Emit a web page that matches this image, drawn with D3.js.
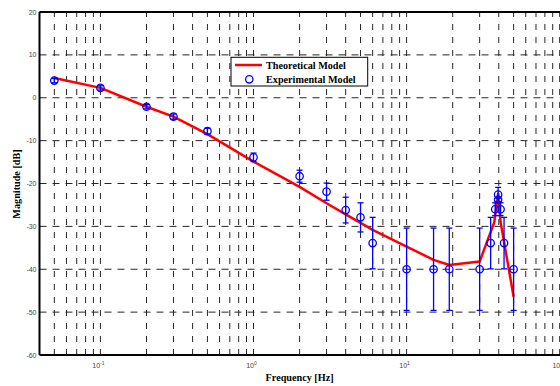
<!DOCTYPE html>
<html><head><meta charset="utf-8">
<script src="https://cdnjs.cloudflare.com/ajax/libs/d3/7.8.5/d3.min.js"></script>
<style>body{margin:0;background:#fff}svg{display:block}</style>
</head><body>
<svg id="c" width="560" height="386"></svg>
<script>
// Theoretical model
const theoFreq = [0.05, 0.1, 0.2, 0.3, 0.5, 1, 2, 3, 4, 5, 6, 10, 15, 19, 30, 37.4, 39.6, 41.1, 50];
const theoMag  = [4.6, 2.3, -2.1, -4.4, -8.5, -14.9, -20.8, -24.6, -27.2, -29.2, -30.8, -34.7, -37.8, -39.0, -38.2, -29, -22.4, -29, -46.4];
// Experimental model
const expFreq = [0.05, 0.1, 0.2, 0.3, 0.5, 1, 2, 3, 4, 5, 6, 10, 15, 19, 30, 35.4, 37.9, 39.6, 39.6, 41.1, 43.3, 50];
const expMag  = [4.0, 2.3, -2.1, -4.4, -7.8, -13.9, -18.3, -21.9, -26.2, -27.9, -33.9, -40, -40, -40, -40, -33.9, -26.0, -22.6, -23.8, -26.0, -33.9, -40];
const expErr  = [0.5, 0.5, 0.5, 0.6, 0.7, 1.0, 1.4, 2.0, 3.0, 3.4, 6.0, 9.6, 9.6, 9.6, 9.6, 6.0, 1.5, 1.7, 0.4, 1.5, 6.0, 9.6];
const yTicks = [-60, -50, -40, -30, -20, -10, 0, 10, 20];
const xMajor = [0.1, 1, 10, 100];
const xMajorExp = ["-1", "0", "1", "2"];
const legendLabels = ["Theoretical Model", "Experimental Model"];

const svg = d3.select("#c");
const L = 39.5, R = 559.7, T = 12, B = 355;
const x = d3.scaleLog().domain([0.04, 100]).range([L, R]);
const y = d3.scaleLinear().domain([-60, 20]).range([B, T]);

// grid
const minor = [];
[0.01, 0.1, 1, 10].forEach(d => { for (let k = 1; k <= 9; k++) { const v = d * k; if (v > 0.04 && v < 100) minor.push(v); } });
minor.push(100);
const g = svg.append("g");
g.selectAll("line.v").data(minor).enter().append("line")
  .attr("x1", d => x(d)).attr("x2", d => x(d)).attr("y1", B).attr("y2", T)
  .attr("stroke", "#262626").attr("stroke-width", 1).attr("stroke-dasharray", "6,7");
g.selectAll("line.h").data(yTicks.filter(d => d > -60 && d < 20)).enter().append("line")
  .attr("x1", L).attr("x2", R).attr("y1", d => y(d)).attr("y2", d => y(d))
  .attr("stroke", "#262626").attr("stroke-width", 1).attr("stroke-dasharray", "7,6");

// frame
svg.append("line").attr("x1", L).attr("x2", L).attr("y1", T).attr("y2", B).attr("stroke", "#000").attr("stroke-width", 2);
svg.append("line").attr("x1", L).attr("x2", 560).attr("y1", B).attr("y2", B).attr("stroke", "#000").attr("stroke-width", 2);
svg.append("line").attr("x1", L).attr("x2", 560).attr("y1", T).attr("y2", T).attr("stroke", "#000").attr("stroke-width", 2);

// y tick labels
svg.selectAll("text.yt").data(yTicks).enter().append("text")
  .attr("x", L - 3).attr("y", d => y(d) + 2.5).attr("text-anchor", "end")
  .attr("font-family", "Liberation Sans, Arial, sans-serif").attr("font-size", 7).attr("fill", "#444")
  .text(d => d);
// x tick labels
xMajor.forEach((d, i) => {
  const t = svg.append("text").attr("x", x(d) - 2).attr("y", 368).attr("text-anchor", "middle")
    .attr("font-family", "Liberation Sans, Arial, sans-serif").attr("font-size", 7).attr("fill", "#444");
  t.append("tspan").text("10");
  t.append("tspan").attr("dy", -3).attr("font-size", 5).text(xMajorExp[i]);
});

// axis labels
svg.append("text").attr("x", (L + R) / 2).attr("y", 381).attr("text-anchor", "middle")
  .attr("font-family", "Liberation Serif, Times New Roman, serif").attr("font-weight", "bold").attr("font-size", 10.2)
  .text("Frequency [Hz]");
svg.append("text").attr("transform", `translate(20,184) rotate(-90)`).attr("text-anchor", "middle")
  .attr("font-family", "Liberation Serif, Times New Roman, serif").attr("font-weight", "bold").attr("font-size", 10.2)
  .text("Magnitude [dB]");

// theoretical line
const theo = theoFreq.map((f, i) => [f, theoMag[i]]);
svg.append("path").datum(theo)
  .attr("d", d3.line().x(d => x(d[0])).y(d => y(d[1])))
  .attr("fill", "none").attr("stroke", "#ff0000").attr("stroke-width", 2.5).attr("stroke-linejoin", "round");

// experimental
const exp = expFreq.map((f, i) => ({f, m: expMag[i], e: expErr[i]}));
const eg = svg.append("g").attr("stroke", "#0000ff").attr("fill", "none");
exp.forEach(d => {
  const cx = x(d.f);
  eg.append("line").attr("x1", cx).attr("x2", cx).attr("y1", y(d.m + d.e)).attr("y2", y(d.m - d.e)).attr("stroke-width", 1.3);
  [d.m + d.e, d.m - d.e].forEach(v => eg.append("line").attr("x1", cx - 3).attr("x2", cx + 3).attr("y1", y(v)).attr("y2", y(v)).attr("stroke-width", 1.3));
  eg.append("circle").attr("cx", cx).attr("cy", y(d.m)).attr("r", 3.7).attr("stroke-width", 1.3);
});

// legend
const lg = svg.append("g");
lg.append("rect").attr("x", 231).attr("y", 57.3).attr("width", 136.7).attr("height", 28.7)
  .attr("fill", "#fff").attr("stroke", "#000").attr("stroke-width", 1);
lg.append("line").attr("x1", 235).attr("x2", 262).attr("y1", 65).attr("y2", 65).attr("stroke", "#ff0000").attr("stroke-width", 2.5);
lg.append("circle").attr("cx", 249.3).attr("cy", 79.3).attr("r", 3.7).attr("fill", "none").attr("stroke", "#0000ff").attr("stroke-width", 1.3);
lg.selectAll("text").data(legendLabels).enter().append("text")
  .attr("x", 266).attr("y", (d, i) => 68.5 + i * 14.8)
  .attr("font-family", "Liberation Serif, Times New Roman, serif").attr("font-weight", "bold").attr("font-size", 10.2)
  .text(d => d);
</script>
</body></html>
